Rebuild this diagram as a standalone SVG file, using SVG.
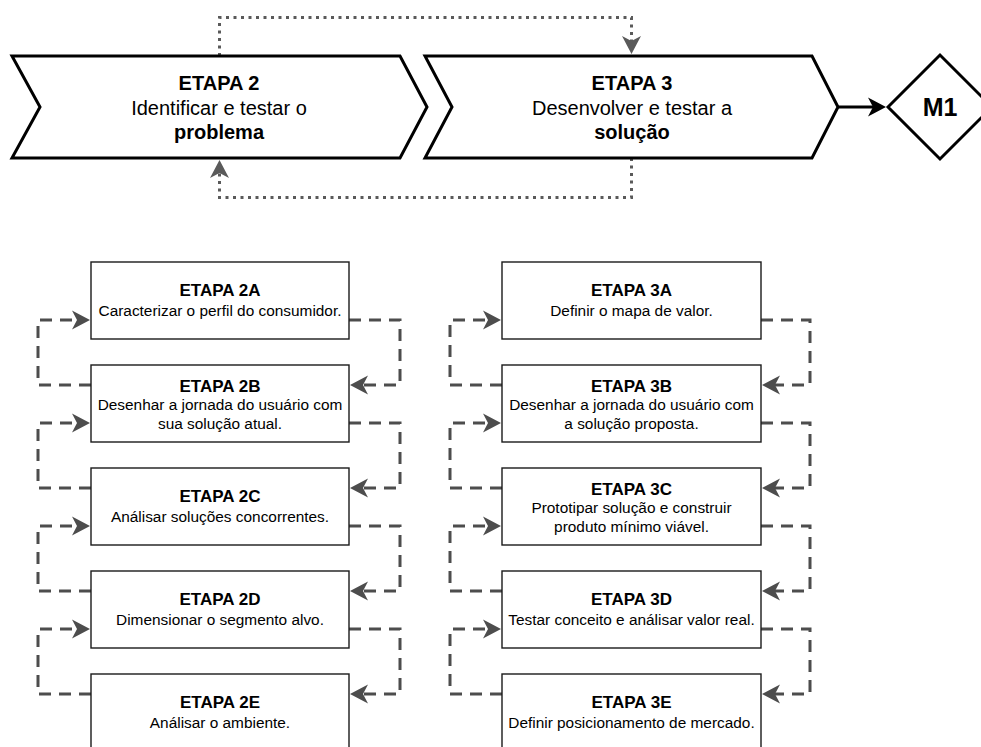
<svg xmlns="http://www.w3.org/2000/svg" width="981" height="747" viewBox="0 0 981 747">
<style>
.chev{fill:#fff;stroke:#000;stroke-width:3;stroke-linejoin:miter}
.box{fill:#fff;stroke:#1a1a1a;stroke-width:1.4}
.t{font-family:"Liberation Sans",Arial,sans-serif;text-anchor:middle;fill:#000}
.big{font-size:20px}
.hd{font-size:17px;font-weight:bold}
.bd{font-size:15.4px}
.b{font-weight:bold}
.dot{fill:none;stroke:#5a5a5a;stroke-width:3;stroke-dasharray:3 4.5}
.dash{fill:none;stroke:#4d4d4d;stroke-width:3;stroke-dasharray:12 8}
</style>
<defs>
<marker id="ag" markerUnits="userSpaceOnUse" markerWidth="20" markerHeight="20" viewBox="0 -10 20 20" refX="5" refY="0" orient="auto">
<path d="M18,0 L0,-9.5 L5,0 L0,9.5 Z" fill="#4d4d4d"/>
</marker>
<marker id="ad" markerUnits="userSpaceOnUse" markerWidth="20" markerHeight="20" viewBox="0 -10 20 20" refX="5" refY="0" orient="auto">
<path d="M18,0 L0,-9.5 L5,0 L0,9.5 Z" fill="#5a5a5a"/>
</marker>
<marker id="ab" markerUnits="userSpaceOnUse" markerWidth="20" markerHeight="20" viewBox="0 -10 20 20" refX="5" refY="0" orient="auto">
<path d="M18,0 L0,-9.5 L5,0 L0,9.5 Z" fill="#000"/>
</marker>
</defs>

<g id="connectors">
<path class="dot" d="M219.5,56 V17.5 H631.5 V41" marker-end="url(#ad)"/>
<path class="dot" d="M631.5,158 V197.5 H219.5 V173" marker-end="url(#ad)"/>
<path d="M838.5,107 H873" fill="none" stroke="#000" stroke-width="3" marker-end="url(#ab)"/>

<path class="dash" d="M349,320 H400 V385 H363" marker-end="url(#ag)"/>
<path class="dash" d="M91,385 H38 V320 H77" marker-end="url(#ag)"/>
<path class="dash" d="M349,423 H400 V488 H363" marker-end="url(#ag)"/>
<path class="dash" d="M91,488 H38 V423 H77" marker-end="url(#ag)"/>
<path class="dash" d="M349,526 H400 V591 H363" marker-end="url(#ag)"/>
<path class="dash" d="M91,591 H38 V526 H77" marker-end="url(#ag)"/>
<path class="dash" d="M349,629 H400 V694 H363" marker-end="url(#ag)"/>
<path class="dash" d="M91,694 H38 V629 H77" marker-end="url(#ag)"/>

<path class="dash" d="M761,320 H810 V385 H775" marker-end="url(#ag)"/>
<path class="dash" d="M502,385 H450 V320 H488" marker-end="url(#ag)"/>
<path class="dash" d="M761,423 H810 V488 H775" marker-end="url(#ag)"/>
<path class="dash" d="M502,488 H450 V423 H488" marker-end="url(#ag)"/>
<path class="dash" d="M761,526 H810 V591 H775" marker-end="url(#ag)"/>
<path class="dash" d="M502,591 H450 V526 H488" marker-end="url(#ag)"/>
<path class="dash" d="M761,629 H810 V694 H775" marker-end="url(#ag)"/>
<path class="dash" d="M502,694 H450 V629 H488" marker-end="url(#ag)"/>
</g>

<g id="etapa2">
<polygon class="chev" points="12,56 400,56 427,107 400,158 12,158 40,107"/>
<text class="t big b" x="219" y="90">ETAPA 2</text>
<text class="t big" x="219" y="115">Identificar e testar o</text>
<text class="t big b" x="219" y="139">problema</text>
</g>

<g id="etapa3">
<polygon class="chev" points="425,56 812,56 838,107 812,158 425,158 452,107"/>
<text class="t big b" x="632" y="90">ETAPA 3</text>
<text class="t big" x="632" y="115">Desenvolver e testar a</text>
<text class="t big b" x="632" y="139">solução</text>
</g>

<g id="m1">
<polygon points="888,107 940,55 992,107 940,159" fill="#fff" stroke="#000" stroke-width="3"/>
<text class="t b" x="940" y="116" font-size="25">M1</text>
</g>

<g id="etapa2a">
<rect class="box" x="91" y="262" width="258" height="77"/>
<text class="t hd" x="220" y="296">ETAPA 2A</text>
<text class="t bd" x="220" y="315.5">Caracterizar o perfil do consumidor.</text>
</g>
<g id="etapa2b">
<rect class="box" x="91" y="365" width="258" height="77"/>
<text class="t hd" x="220" y="391.5">ETAPA 2B</text>
<text class="t bd" x="220" y="410">Desenhar a jornada do usuário com</text>
<text class="t bd" x="220" y="428.5">sua solução atual.</text>
</g>
<g id="etapa2c">
<rect class="box" x="91" y="468" width="258" height="77"/>
<text class="t hd" x="220" y="502">ETAPA 2C</text>
<text class="t bd" x="220" y="521.5">Análisar soluções concorrentes.</text>
</g>
<g id="etapa2d">
<rect class="box" x="91" y="571" width="258" height="77"/>
<text class="t hd" x="220" y="605">ETAPA 2D</text>
<text class="t bd" x="220" y="624.5">Dimensionar o segmento alvo.</text>
</g>
<g id="etapa2e">
<rect class="box" x="91" y="674" width="258" height="77"/>
<text class="t hd" x="220" y="708">ETAPA 2E</text>
<text class="t bd" x="220" y="727.5">Análisar o ambiente.</text>
</g>

<g id="etapa3a">
<rect class="box" x="502" y="262" width="259" height="77"/>
<text class="t hd" x="631.5" y="296">ETAPA 3A</text>
<text class="t bd" x="631.5" y="315.5">Definir o mapa de valor.</text>
</g>
<g id="etapa3b">
<rect class="box" x="502" y="365" width="259" height="77"/>
<text class="t hd" x="631.5" y="391.5">ETAPA 3B</text>
<text class="t bd" x="631.5" y="410">Desenhar a jornada do usuário com</text>
<text class="t bd" x="631.5" y="428.5">a solução proposta.</text>
</g>
<g id="etapa3c">
<rect class="box" x="502" y="468" width="259" height="77"/>
<text class="t hd" x="631.5" y="494.5">ETAPA 3C</text>
<text class="t bd" x="631.5" y="513">Prototipar solução e construir</text>
<text class="t bd" x="631.5" y="531.5">produto mínimo viável.</text>
</g>
<g id="etapa3d">
<rect class="box" x="502" y="571" width="259" height="77"/>
<text class="t hd" x="631.5" y="605">ETAPA 3D</text>
<text class="t bd" x="631.5" y="624.5">Testar conceito e análisar valor real.</text>
</g>
<g id="etapa3e">
<rect class="box" x="502" y="674" width="259" height="77"/>
<text class="t hd" x="631.5" y="708">ETAPA 3E</text>
<text class="t bd" x="631.5" y="727.5">Definir posicionamento de mercado.</text>
</g>
</svg>
